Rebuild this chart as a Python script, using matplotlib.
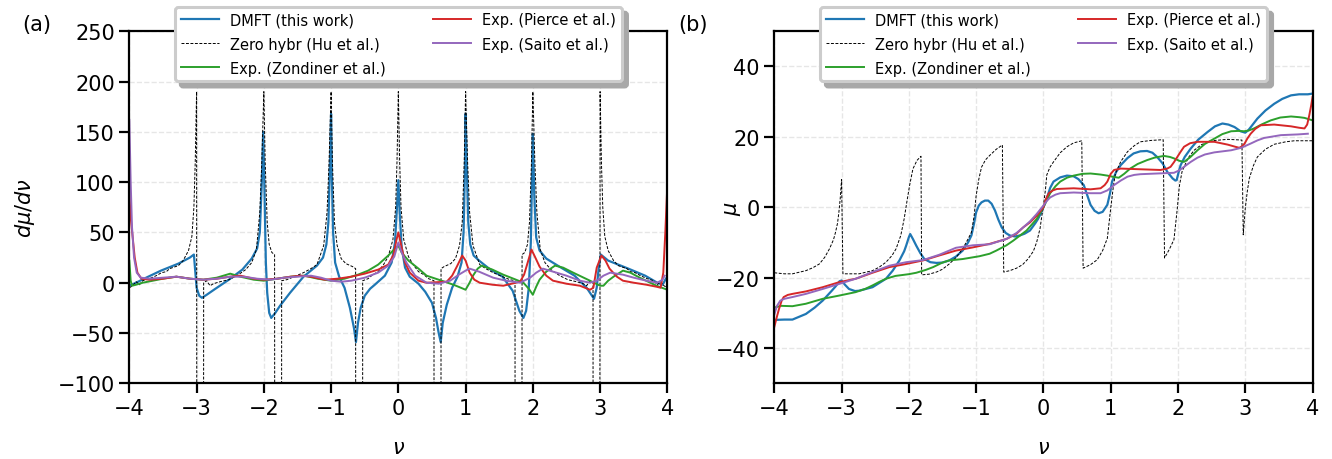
import matplotlib
matplotlib.use("Agg")
import matplotlib.pyplot as plt

# ---------------- panel (a): d mu / d nu ----------------
nu_a_dmft = [-4.00, -3.90, -3.75, -3.53, -3.27, -3.10, -3.04, -3.00, -2.96, -2.92, -2.85, -2.72, -2.52, -2.32,
             -2.18, -2.10, -2.06, -2.03, -2.01, -1.99, -1.97, -1.95, -1.92, -1.89, -1.83, -1.76, -1.61, -1.41,
             -1.21, -1.12, -1.07, -1.04, -1.02, -1.00, -0.99, -0.97, -0.94, -0.88, -0.80, -0.72, -0.66, -0.63,
             -0.60, -0.56, -0.50, -0.42, -0.35, -0.20, -0.10, -0.05, -0.02, 0.00, 0.02, 0.05, 0.10, 0.17,
             0.30, 0.40, 0.50, 0.56, 0.60, 0.63, 0.66, 0.72, 0.80, 0.88, 0.94, 0.97, 0.99, 1.00, 1.02, 1.04,
             1.07, 1.12, 1.20, 1.35, 1.55, 1.70, 1.80, 1.86, 1.90, 1.94, 1.97, 1.99, 2.00, 2.02, 2.05, 2.10,
             2.20, 2.37, 2.62, 2.80, 2.91, 2.95, 2.98, 3.01, 3.12, 3.42, 3.67, 3.85, 3.93, 3.97, 4.00]
dmu_dmft = [-3, 0, 5, 12, 19, 25, 28, -5, -13, -15, -12, -6, 3, 13,
            24, 34, 50, 100, 150, 90, 20, -10, -30, -35, -30, -23, -10, 6,
            17, 25, 38, 60, 110, 168, 110, 50, 20, 6, -5, -25, -45, -59,
            -40, -25, -13, -6, -2, 7, 20, 40, 75, 102, 70, 35, 15, 6,
            -1, -9, -20, -35, -50, -59, -40, -22, -5, 6, 20, 50, 110, 168, 110, 60,
            38, 27, 22, 14, 6, -8, -28, -35, -28, -5, 40, 110, 148, 90, 45, 32,
            24, 17, 7, -5, -16, -5, 15, 28, 22, 14, 7, 0, -2, 3, 6]

nu_a_hu = [-4.00, -3.95, -3.90, -3.85, -3.80, -3.70, -3.60, -3.52, -3.45, -3.40, -3.27, -3.20, -3.12, -3.07,
           -3.04, -3.02, -3.00, -2.99, -2.90, -2.895, -2.85, -2.80, -2.75, -2.65, -2.52, -2.40, -2.27, -2.18,
           -2.11, -2.06, -2.03, -2.00, -1.98, -1.95, -1.92, -1.88, -1.84, -1.83, -1.74, -1.735, -1.66, -1.55,
           -1.41, -1.30, -1.21, -1.11, -1.06, -1.03, -1.00, -0.98, -0.95, -0.91, -0.85, -0.78, -0.68, -0.635,
           -0.63, -0.535, -0.53, -0.45, -0.38, -0.30, -0.22, -0.15, -0.08, -0.04, -0.02, 0.00,
           0.02, 0.04, 0.08, 0.15, 0.22, 0.30, 0.38, 0.45, 0.53, 0.535, 0.63, 0.635, 0.68, 0.78, 0.85, 0.91,
           0.95, 0.98, 1.00, 1.03, 1.06, 1.11, 1.21, 1.30, 1.41, 1.55, 1.66, 1.735, 1.74, 1.83, 1.84, 1.88,
           1.92, 1.95, 1.98, 2.00, 2.03, 2.06, 2.11, 2.18, 2.27, 2.40, 2.52, 2.65, 2.75, 2.80, 2.85, 2.895,
           2.90, 2.99, 3.00, 3.02, 3.04, 3.07, 3.12, 3.20, 3.27, 3.40, 3.45, 3.52, 3.60, 3.70, 3.80, 3.85,
           3.90, 3.95, 4.00]
dmu_hu = [-5, -3, 1, -2, 2, 4, 7, 10, 11, 14, 17, 22, 32, 46,
          75, 120, 190, -1000, -1000, 0, 2, -3, -1, 1, 3, 7, 13, 20,
          33, 70, 120, 190, 120, 60, 38, 30, 28, -1000, -1000, 2, 3, 6,
          10, 14, 18, 37, 70, 120, 190, 120, 60, 37, 24, 19, 16, 14,
          -1000, -1000, 2, 4, 8, 11, 18, 26, 43, 75, 120, 190,
          120, 75, 43, 26, 18, 11, 8, 4, 2, -1000, -1000, 14, 16, 19, 24, 37,
          60, 120, 190, 120, 70, 37, 18, 14, 10, 6, 3, 2, -1000, -1000, 28, 30,
          38, 60, 120, 190, 120, 70, 33, 20, 13, 7, 3, 1, -1, -3, 2, 0,
          -1000, -1000, 190, 120, 75, 46, 32, 22, 17, 14, 11, 10, 7, 4, 2, -2,
          1, -3, -5]

nu_a_zond = [-4.00, -3.98, -3.96, -3.90, -3.80, -3.65, -3.50, -3.30, -3.10, -2.90, -2.70, -2.50, -2.35, -2.15,
             -2.00, -1.80, -1.60, -1.40, -1.20, -1.00, -0.80, -0.60, -0.45, -0.30, -0.15, -0.05, 0.00, 0.05,
             0.15, 0.30, 0.42, 0.60, 0.82, 0.93, 1.00, 1.06, 1.11, 1.18, 1.24, 1.40, 1.56, 1.75, 1.86, 1.94,
             2.00, 2.05, 2.10, 2.20, 2.33, 2.45, 2.60, 2.85, 3.00, 3.05, 3.12, 3.20, 3.34, 3.45, 3.59, 3.84, 4.00]
dmu_zond = [22, 2, -3, -2, 0, 2, 4, 6, 4, 3, 5, 9, 6, 3,
            2, 4, 6, 7, 4, 2, 4, 8, 12, 18, 27, 34, 37, 30,
            22, 14, 7, 3, -2, -5, -7, 0, 7, 14, 17, 13, 8, 3, 0, -6,
            -12, -4, 3, 11, 17, 15, 10, 2, -3, -3, 2, 6, 12, 10, 5, -3, -7]

nu_a_pierce = [-4.00, -3.98, -3.95, -3.92, -3.88, -3.82, -3.70, -3.50, -3.30, -3.10, -2.90, -2.70, -2.50, -2.35,
               -2.15, -2.00, -1.80, -1.60, -1.45, -1.30, -1.10, -0.90, -0.70, -0.50, -0.30, -0.15, -0.07, -0.03,
               0.00, 0.04, 0.10, 0.17, 0.30, 0.42, 0.72, 0.80, 0.87, 0.95, 1.00, 1.06, 1.13, 1.21, 1.40, 1.56,
               1.81, 1.87, 1.91, 1.98, 2.03, 2.10, 2.20, 2.30, 2.50, 2.70, 2.85, 2.90, 2.95, 3.02, 3.08, 3.14,
               3.25, 3.34, 3.50, 3.69, 3.84, 3.90, 3.94, 3.97, 4.00]
dmu_pierce = [88, 65, 45, 25, 10, 4, 3, 4, 6, 4, 3, 4, 6, 7,
              4, 3, 4, 6, 7, 6, 3, 4, 6, 9, 13, 18, 28, 42,
              50, 38, 20, 10, 2, 0, 1, 7, 16, 27, 22, 10, 3, 0, -2, -3,
              1, 8, 17, 33, 26, 16, 7, 2, -1, -3, -7, -5, 15, 27, 22, 14,
              6, 2, 0, -2, -4, -5, 10, 50, 97]

nu_a_saito = [-4.00, -3.98, -3.96, -3.93, -3.89, -3.83, -3.70, -3.50, -3.30, -3.10, -2.90, -2.70, -2.50, -2.30,
              -2.10, -1.90, -1.70, -1.50, -1.30, -1.15, -1.00, -0.85, -0.70, -0.50, -0.30, -0.15, -0.06, 0.00,
              0.05, 0.12, 0.25, 0.42, 0.60, 0.77, 0.90, 1.00, 1.06, 1.20, 1.41, 1.60, 1.81, 1.96, 2.05, 2.15,
              2.30, 2.50, 2.70, 2.85, 2.95, 3.05, 3.15, 3.34, 3.50, 3.69, 3.85, 3.93, 3.96]
dmu_saito = [162, 100, 55, 25, 10, 5, 4, 5, 6, 4, 3, 4, 6, 6,
             4, 3, 5, 6, 7, 5, 2, 1, 2, 5, 10, 17, 26, 40,
             30, 20, 7, 0, -1, 2, 8, 12, 14, 11, 5, 2, 0, 5, 10, 14,
             11, 7, 2, 0, 2, 7, 10, 8, 5, 2, 0, 3, 7]

# ---------------- panel (b): mu ----------------
nu_b_dmft = [-4.00, -3.85, -3.73, -3.53, -3.40, -3.28, -3.15, -3.09, -3.03, -3.00, -2.95, -2.89, -2.80, -2.74,
             -2.54, -2.34, -2.24, -2.14, -2.07, -2.04, -2.00, -1.98, -1.94, -1.89, -1.83, -1.77, -1.68, -1.59,
             -1.50, -1.40, -1.30, -1.20, -1.12, -1.07, -1.03, -1.00, -0.96, -0.92, -0.87, -0.82, -0.77, -0.72,
             -0.67, -0.62, -0.56, -0.50, -0.42, -0.35, -0.28, -0.20, -0.12, -0.08, -0.04, 0.00, 0.05, 0.10,
             0.15, 0.25, 0.35, 0.45, 0.52, 0.60, 0.65, 0.70, 0.76, 0.82, 0.88, 0.95, 0.99, 1.02, 1.08, 1.15,
             1.25, 1.34, 1.44, 1.54, 1.62, 1.69, 1.77, 1.84, 1.92, 1.96, 1.98, 2.01, 2.04, 2.10, 2.19, 2.30,
             2.44, 2.55, 2.66, 2.75, 2.84, 2.93, 3.00, 3.05, 3.18, 3.30, 3.43, 3.55, 3.68, 3.80, 3.93, 4.00]
mu_dmft = [-32.0, -31.9, -31.9, -30.3, -28.5, -26.5, -23.8, -22.5, -21.0, -20.8, -22.0, -23.2, -23.8, -23.7,
           -22.7, -20.3, -18.0, -15.1, -12.5, -10.9, -8.5, -7.6, -9.0, -10.9, -13.0, -14.7, -15.6, -15.8,
           -15.7, -15.1, -14.0, -12.3, -10.0, -8.0, -4.5, -1.4, 0.5, 1.4, 1.9, 1.9, 1.0, -0.9,
           -3.5, -5.7, -7.3, -8.0, -8.3, -8.0, -7.5, -6.6, -4.5, -3.3, -1.8, 0.0, 2.5, 5.5,
           7.3, 8.5, 9.0, 8.8, 8.0, 6.3, 3.5, 0.7, -1.0, -1.7, -1.3, 0.7, 4.0, 7.3, 10.0, 12.0,
           14.0, 15.3, 15.9, 16.0, 15.5, 14.3, 12.5, 10.1, 8.2, 7.6, 7.7, 10.0, 12.0, 14.3, 16.7, 19.2,
           21.4, 23.0, 23.8, 23.5, 22.8, 21.6, 21.2, 22.0, 25.2, 27.5, 29.4, 30.8, 31.8, 32.1, 32.1, 32.3]

nu_b_hu = [-4.00, -3.85, -3.73, -3.53, -3.43, -3.33, -3.25, -3.18, -3.12, -3.09, -3.06, -3.04, -3.02, -3.00,
           -2.98, -2.90, -2.74, -2.54, -2.44, -2.34, -2.25, -2.19, -2.12, -2.07, -2.03, -1.99, -1.94, -1.88,
           -1.82, -1.81, -1.70, -1.59, -1.50, -1.40, -1.30, -1.20, -1.12, -1.07, -1.03, -1.00, -0.96, -0.92,
           -0.86, -0.80, -0.70, -0.61, -0.59, -0.50, -0.40, -0.31, -0.23, -0.15, -0.10, -0.05, -0.03, 0.00,
           0.03, 0.05, 0.10, 0.15, 0.25, 0.35, 0.45, 0.57, 0.59, 0.70, 0.80, 0.88, 0.95, 1.00, 1.04, 1.07,
           1.15, 1.25, 1.35, 1.44, 1.60, 1.78, 1.80, 1.87, 1.94, 1.99, 2.02, 2.06, 2.15, 2.24, 2.35, 2.49,
           2.74, 2.95, 2.97, 3.00, 3.03, 3.06, 3.12, 3.18, 3.30, 3.43, 3.60, 3.73, 4.00]
mu_hu = [-18.6, -18.9, -18.9, -18.0, -17.2, -16.1, -14.2, -11.8, -9.2, -7.1, -4.5, -1.4, 2.5, 7.9,
         -18.9, -18.9, -18.9, -18.0, -17.0, -15.6, -13.7, -11.8, -8.0, -3.3, 1.5, 6.1, 10.9, 13.3,
         14.5, -19.2, -19.0, -18.4, -17.6, -16.1, -14.3, -11.8, -9.0, -7.1, -2.5, 3.3, 8.0, 11.4,
         13.5, 14.7, 16.5, 17.7, -18.4, -18.0, -17.3, -16.3, -14.7, -12.5, -9.9, -6.0, -3.3, 0.5,
         5.0, 9.2, 11.5, 12.9, 15.5, 17.2, 18.3, 18.9, -17.3, -16.3, -14.9, -12.3, -8.8, -0.3, 6.0, 9.6,
         13.0, 15.8, 17.5, 18.6, 19.0, 19.2, -14.4, -12.0, -9.2, -0.3, 6.0, 10.1, 14.0, 16.2, 17.8, 18.9,
         19.3, 19.1, -7.8, -0.3, 4.5, 8.2, 11.8, 14.3, 16.5, 17.9, 18.6, 18.9, 18.9]

nu_b_zond = [-4.00, -3.90, -3.73, -3.53, -3.28, -3.04, -2.79, -2.65, -2.54, -2.44, -2.34, -2.20, -2.00, -1.89,
             -1.75, -1.64, -1.50, -1.40, -1.20, -0.95, -0.80, -0.70, -0.55, -0.45, -0.25, -0.10, 0.00, 0.10,
             0.18, 0.25, 0.35, 0.45, 0.58, 0.70, 0.85, 0.95, 1.05, 1.12, 1.20, 1.29, 1.40, 1.54, 1.65, 1.79,
             1.88, 1.94, 2.02, 2.09, 2.18, 2.29, 2.40, 2.54, 2.66, 2.79, 2.90, 2.98, 3.05, 3.13, 3.25, 3.38,
             3.52, 3.68, 3.80, 3.88, 4.00]
mu_zond = [-28.5, -28.0, -28.1, -27.4, -26.0, -25.1, -24.1, -23.2, -22.2, -21.2, -20.3, -19.5, -19.0, -18.6,
           -17.8, -17.0, -15.7, -15.1, -14.7, -13.9, -13.2, -12.3, -10.8, -9.5, -6.6, -3.3, 0.0, 4.0,
           6.0, 7.3, 8.4, 9.0, 9.5, 9.6, 9.3, 9.0, 8.6, 8.4, 9.5, 11.0, 12.3, 13.4, 14.1, 14.6,
           14.3, 13.9, 13.2, 12.9, 14.2, 16.2, 18.0, 19.5, 20.8, 21.6, 21.7, 21.6, 21.8, 22.4, 23.6, 24.7,
           25.5, 25.8, 25.6, 25.4, 24.7]

nu_b_pierce = [-4.00, -3.96, -3.93, -3.89, -3.86, -3.80, -3.73, -3.53, -3.28, -3.04, -2.79, -2.54, -2.29, -2.04,
               -1.79, -1.55, -1.30, -1.05, -0.80, -0.55, -0.40, -0.30, -0.20, -0.10, 0.00, 0.04, 0.08, 0.14,
               0.20, 0.45, 0.70, 0.85, 0.91, 0.95, 1.00, 1.05, 1.15, 1.44, 1.74, 1.84, 1.89, 1.94, 1.99, 2.04,
               2.09, 2.18, 2.29, 2.54, 2.74, 2.85, 2.91, 2.95, 2.99, 3.03, 3.08, 3.15, 3.23, 3.43, 3.68, 3.80,
               3.88, 3.92, 3.95, 3.98, 4.00]
mu_pierce = [-34.0, -31.0, -28.9, -26.5, -25.5, -24.9, -24.6, -23.9, -22.7, -21.3, -20.3, -18.6, -17.0, -16.1,
             -15.1, -13.7, -12.3, -11.4, -10.4, -9.0, -7.5, -5.7, -4.3, -2.4, 0.0, 2.5, 4.0, 4.8,
             5.2, 5.4, 5.1, 5.4, 6.3, 7.3, 9.5, 10.6, 11.0, 10.8, 10.6, 11.0, 11.5, 12.8, 14.3, 15.8,
             17.2, 18.2, 18.6, 18.6, 17.8, 17.2, 16.9, 17.3, 18.1, 19.5, 20.9, 22.3, 23.3, 23.5, 23.0, 22.6,
             22.4, 23.5, 26.0, 29.0, 31.3]

nu_b_saito = [-4.00, -3.96, -3.91, -3.85, -3.73, -3.53, -3.28, -3.04, -2.79, -2.54, -2.29, -2.04, -1.79, -1.55,
              -1.30, -1.05, -0.80, -0.55, -0.40, -0.30, -0.20, -0.10, 0.00, 0.05, 0.10, 0.18, 0.25, 0.45,
              0.70, 0.85, 0.95, 1.05, 1.15, 1.25, 1.35, 1.44, 1.69, 1.94, 2.02, 2.09, 2.19, 2.29, 2.40, 2.54,
              2.79, 2.94, 3.08, 3.18, 3.28, 3.53, 3.78, 3.93]
mu_saito = [-30.5, -28.0, -26.5, -26.0, -25.5, -24.6, -23.2, -21.8, -20.3, -18.4, -16.6, -15.6, -15.0, -13.5,
            -11.5, -10.8, -10.5, -9.0, -7.3, -5.7, -4.0, -1.9, 0.5, 1.8, 2.8, 3.6, 4.0, 4.2,
            4.0, 4.0, 4.8, 6.3, 7.6, 8.7, 9.2, 9.4, 9.6, 9.8, 10.5, 11.5, 12.9, 14.1, 15.0, 15.6,
            16.2, 16.9, 18.1, 19.0, 19.7, 20.5, 20.7, 20.9]

labels = ['DMFT (this work)', 'Zero hybr (Hu et al.)', 'Exp. (Zondiner et al.)',
          'Exp. (Pierce et al.)', 'Exp. (Saito et al.)']
xticks = [-4, -3, -2, -1, 0, 1, 2, 3, 4]

plt.rcParams['font.family'] = ['DejaVu Sans']

fig = plt.figure(figsize=(13.32, 4.6), dpi=100)
ax1 = fig.add_axes([0.0971, 0.1646, 0.4039, 0.7652])
ax2 = fig.add_axes([0.5813, 0.1646, 0.4041, 0.7652])

hu_style = dict(color='black', lw=0.7, ls=(0, (3, 1.6)))

ax1.plot(nu_a_dmft, dmu_dmft, color='#1f77b4', lw=1.6, label=labels[0])
ax1.plot(nu_a_hu, dmu_hu, label=labels[1], **hu_style)
ax1.plot(nu_a_zond, dmu_zond, color='#2ca02c', lw=1.4, label=labels[2])
ax1.plot(nu_a_pierce, dmu_pierce, color='#d62728', lw=1.4, label=labels[3])
ax1.plot(nu_a_saito, dmu_saito, color='#9467bd', lw=1.4, label=labels[4])

ax2.plot(nu_b_dmft, mu_dmft, color='#1f77b4', lw=1.6, label=labels[0])
ax2.plot(nu_b_hu, mu_hu, label=labels[1], **hu_style)
ax2.plot(nu_b_zond, mu_zond, color='#2ca02c', lw=1.4, label=labels[2])
ax2.plot(nu_b_pierce, mu_pierce, color='#d62728', lw=1.4, label=labels[3])
ax2.plot(nu_b_saito, mu_saito, color='#9467bd', lw=1.4, label=labels[4])

ax1.set_ylim(-100, 250)
ax1.set_yticks([-100, -50, 0, 50, 100, 150, 200, 250])
ax1.set_ylabel(r'$d\mu/d\nu$', fontsize=15)
ax1.yaxis.set_label_coords(-0.172, 0.5)
ax2.set_ylim(-50, 50)
ax2.set_yticks([-40, -20, 0, 20, 40])
ax2.set_ylabel(r'$\mu$', fontsize=15)
ax2.yaxis.set_label_coords(-0.058, 0.5)

for ax in (ax1, ax2):
    ax.set_xlim(-4, 4)
    ax.set_xticks(xticks)
    ax.set_xlabel(r'$\nu$', fontsize=15, labelpad=14)
    ax.grid(True, ls='--', color='#e6e6e6', lw=1.0)
    ax.set_axisbelow(True)
    ax.tick_params(labelsize=15, width=1.6, length=7)
    for s in ax.spines.values():
        s.set_linewidth(1.6)
    leg = ax.legend(ncol=2, loc='upper center', bbox_to_anchor=(0.5, 1.07), borderaxespad=0,
                    fontsize=10.5, frameon=True, fancybox=True, framealpha=1,
                    shadow={'ox': 4, 'oy': -4, 'color': '#a8a8a8', 'alpha': 1},
                    edgecolor='#cccccc', columnspacing=3.2, handlelength=2.6, labelspacing=0.62)
    leg.get_frame().set_linewidth(2.2)
    leg.set_zorder(10)

fig.text(0.017, 0.945, '(a)', fontsize=15, va='center')
fig.text(0.509, 0.945, '(b)', fontsize=15, va='center')

fig.savefig('out.png', dpi=100)
